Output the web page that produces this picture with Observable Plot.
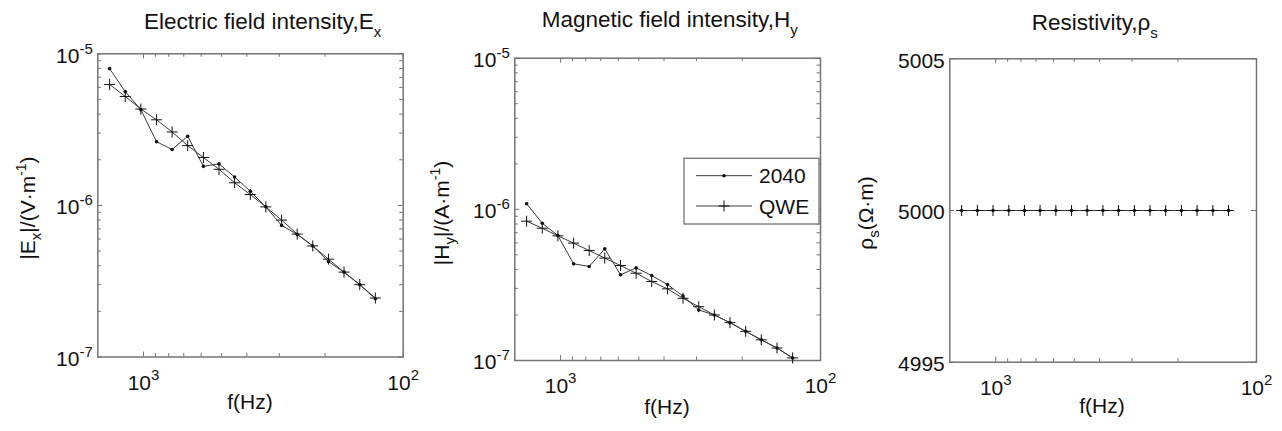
<!DOCTYPE html>
<html><head><meta charset="utf-8">
<script src="https://cdn.jsdelivr.net/npm/d3@7"></script>
<script src="https://cdn.jsdelivr.net/npm/@observablehq/plot@0.6"></script>
<style>
body{margin:0;background:#fff;}
#wrap{position:relative;width:1282px;height:431px;overflow:hidden;background:#fff;font-family:"Liberation Sans",Arial,sans-serif;}
#wrap svg{position:absolute;left:0;top:0;}
</style></head><body><div id="wrap"></div>
<script>
// ---- data ----
const freq = [1351, 1176, 1024, 891, 776, 676, 588, 512, 446, 388, 338, 294, 256, 223, 194, 169, 147, 128];
const ex2040 = [7.98e-6, 5.63e-6, 4.28e-6, 2.63e-6, 2.34e-6, 2.86e-6, 1.81e-6, 1.88e-6, 1.54e-6, 1.24e-6, 9.78e-7, 7.38e-7, 6.44e-7, 5.40e-7, 4.26e-7, 3.63e-7, 3.00e-7, 2.42e-7];
const exQWE = [6.28e-6, 5.23e-6, 4.32e-6, 3.67e-6, 3.05e-6, 2.48e-6, 2.07e-6, 1.73e-6, 1.41e-6, 1.18e-6, 9.78e-7, 8.00e-7, 6.47e-7, 5.40e-7, 4.42e-7, 3.63e-7, 3.00e-7, 2.45e-7];
const hy2040 = [1.09e-6, 8.09e-7, 6.71e-7, 4.36e-7, 4.19e-7, 5.48e-7, 3.69e-7, 4.10e-7, 3.65e-7, 3.18e-7, 2.67e-7, 2.16e-7, 2.00e-7, 1.78e-7, 1.56e-7, 1.37e-7, 1.21e-7, 1.04e-7];
const hyQWE = [8.35e-7, 7.50e-7, 6.68e-7, 5.98e-7, 5.34e-7, 4.76e-7, 4.25e-7, 3.78e-7, 3.33e-7, 2.98e-7, 2.58e-7, 2.27e-7, 2.00e-7, 1.78e-7, 1.56e-7, 1.37e-7, 1.21e-7, 1.04e-7];
const rho2040 = [5000, 5000, 5000, 5000, 5000, 5000, 5000, 5000, 5000, 5000, 5000, 5000, 5000, 5000, 5000, 5000, 5000, 5000];
const rhoQWE = [5000, 5000, 5000, 5000, 5000, 5000, 5000, 5000, 5000, 5000, 5000, 5000, 5000, 5000, 5000, 5000, 5000, 5000];
const seriesNames = ["2040", "QWE"];
const xMajor = [1000, 100];
const xMinor = [900, 800, 700, 600, 500, 400, 300, 200];
const yMajorLog = [1e-7, 1e-6, 1e-5];
const yMinorLog = [2e-7, 3e-7, 4e-7, 5e-7, 6e-7, 7e-7, 8e-7, 9e-7, 2e-6, 3e-6, 4e-6, 5e-6, 6e-6, 7e-6, 8e-6, 9e-6];
const yMajorRho = [4995, 5000, 5005];

// ---- style ----
const W = 1282, H = 431;
const FONT = "Liberation Sans, Arial, sans-serif";
const frameC = "#747474", lineC = "#3a3a3a", markC = "#111";
const plusSym = {draw(ctx){ const a = 5.5; ctx.moveTo(-a,0); ctx.lineTo(a,0); ctx.moveTo(0,-a); ctx.lineTo(0,a); }};
const ns = "http://www.w3.org/2000/svg";
const wrap = document.getElementById("wrap");

function expFmt(d){ return "10^" + Math.round(Math.log10(d)); }

function panel(o){
  const h = o.B - o.T, w = o.R - o.L;
  const t2040 = freq.map((f,i)=>({f, v:o.s2040[i]}));
  const tQWE = freq.map((f,i)=>({f, v:o.sQWE[i]}));
  const tk = (len) => ({stroke: frameC, strokeWidth: 1});
  const marks = [
    Plot.tickX(xMajor, {x: d=>d, insetTop: h-5, stroke: frameC}),
    Plot.tickX(xMajor, {x: d=>d, insetBottom: h-5, stroke: frameC}),
    Plot.tickX(xMinor, {x: d=>d, insetTop: h-3.5, stroke: frameC}),
    Plot.tickX(xMinor, {x: d=>d, insetBottom: h-3.5, stroke: frameC}),
    Plot.tickY(o.yMajor, {y: d=>d, insetRight: w-5, stroke: frameC}),
    Plot.tickY(o.yMajor, {y: d=>d, insetLeft: w-5, stroke: frameC}),
  ];
  if (o.yMinor) marks.push(
    Plot.tickY(o.yMinor, {y: d=>d, insetRight: w-3.5, stroke: frameC}),
    Plot.tickY(o.yMinor, {y: d=>d, insetLeft: w-3.5, stroke: frameC})
  );
  marks.push(
    Plot.frame({stroke: frameC, strokeWidth: 1.5}),
    Plot.axisX({ticks: xMajor, tickSize: 0, tickPadding: 18, tickFormat: expFmt, fontSize: 21, label: null, fill: "#111"}),
    Plot.axisY({ticks: o.yMajor, tickSize: 0, tickPadding: 5, tickFormat: o.yFmt, fontSize: 21, label: null, dy: 2, fill: "#111"}),
    Plot.line(tQWE, {x: "f", y: "v", stroke: lineC, strokeWidth: 1}),
    Plot.line(t2040, {x: "f", y: "v", stroke: lineC, strokeWidth: 1}),
    Plot.dot(tQWE, {x: "f", y: "v", symbol: plusSym, r: 4, fill: "none", stroke: markC, strokeWidth: 1}),
    Plot.dot(t2040, {x: "f", y: "v", r: 1.8, fill: markC, stroke: "none"})
  );
  const svg = Plot.plot({
    width: W, height: H,
    marginLeft: o.L, marginRight: W - o.R, marginTop: o.T, marginBottom: H - o.B,
    x: {type: "log", domain: [1500, 100]},
    y: {type: o.yType, domain: o.yDomain},
    style: {fontFamily: FONT, fontSize: "21px", background: "transparent", overflow: "visible", color: "#111"},
    marks
  });
  // superscript exponents in tick labels
  svg.querySelectorAll('g[aria-label="x-axis tick label"] text, g[aria-label="y-axis tick label"] text').forEach(t => {
    const m = t.textContent.match(/^10\^(.+)$/);
    if (!m) return;
    const isX = t.closest('g[aria-label="x-axis tick label"]') != null;
    t.textContent = "";
    const a = document.createElementNS(ns, "tspan"); a.textContent = "10"; t.appendChild(a);
    const b = document.createElementNS(ns, "tspan");
    b.setAttribute("dy", isX ? "-10" : "-9");
    b.setAttribute("font-size", "15");
    b.textContent = m[1]; t.appendChild(b);
  });
  wrap.appendChild(svg);
}

panel({L: 97.3, R: 402.7, T: 53.3, B: 356.5, yType: "log", yDomain: [1e-7, 1e-5], yMajor: yMajorLog, yMinor: yMinorLog, yFmt: expFmt, s2040: ex2040, sQWE: exQWE});
panel({L: 514.3, R: 820, T: 57.7, B: 360, yType: "log", yDomain: [1e-7, 1e-5], yMajor: yMajorLog, yMinor: yMinorLog, yFmt: expFmt, s2040: hy2040, sQWE: hyQWE});
panel({L: 949.3, R: 1256, T: 58.3, B: 361.7, yType: "linear", yDomain: [4995, 5005], yMajor: yMajorRho, yMinor: null, yFmt: d => String(d), s2040: rho2040, sQWE: rhoQWE});

// ---- overlay text: titles, axis labels, legend ----
const ov = d3.select(wrap).append("svg").attr("width", W).attr("height", H)
  .style("font-family", FONT).style("overflow", "visible");

function rich(sel, x, y, parts, opt = {}){
  const t = sel.append("text").attr("x", x).attr("y", y)
    .attr("font-size", opt.size || 21).attr("fill", "#111")
    .attr("text-anchor", opt.anchor || "start");
  if (opt.rotate) t.attr("transform", `rotate(-90 ${x} ${y})`);
  let shift = 0;
  parts.forEach(p => {
    const ts = t.append("tspan").text(p.t);
    let target = 0, fs = null;
    if (p.sub) { target = opt.subDy || 7; fs = opt.subSize || 15; }
    if (p.sup) { target = opt.supDy || -9; fs = opt.supSize || 14; }
    if (target - shift !== 0) ts.attr("dy", target - shift);
    shift = target;
    if (fs) ts.attr("font-size", fs);
  });
  return t;
}

// titles
rich(ov, 144, 29.3, [{t:"Electric field intensity,E"}, {t:"x", sub:true}], {size: 22.5, subDy: 8, subSize: 15});
rich(ov, 541.7, 27.3, [{t:"Magnetic field intensity,H"}, {t:"y", sub:true}], {size: 22.5, subDy: 8, subSize: 15});
rich(ov, 1031.7, 30, [{t:"Resistivity,\u03c1"}, {t:"s", sub:true}], {size: 22.5, subDy: 8, subSize: 15});

// x labels
rich(ov, 250, 409, [{t:"f(Hz)"}], {anchor: "middle"});
rich(ov, 667, 414, [{t:"f(Hz)"}], {anchor: "middle"});
rich(ov, 1102, 413, [{t:"f(Hz)"}], {anchor: "middle"});

// y labels (rotated)
rich(ov, 35, 208, [{t:"|E"}, {t:"x", sub:true}, {t:"|/(V\u00b7m"}, {t:"-1", sup:true}, {t:")"}], {anchor: "middle", rotate: true, subDy: 6, supDy: -9});
rich(ov, 449, 213, [{t:"|H"}, {t:"y", sub:true}, {t:"|/(A\u00b7m"}, {t:"-1", sup:true}, {t:")"}], {anchor: "middle", rotate: true, subDy: 6, supDy: -9});
rich(ov, 873, 213, [{t:"\u03c1"}, {t:"s", sub:true}, {t:"(\u03a9\u00b7m)"}], {anchor: "middle", rotate: true, subDy: 6});

// legend
const lg = ov.append("g");
lg.append("rect").attr("x", 684).attr("y", 158.3).attr("width", 135).attr("height", 65.7)
  .attr("fill", "#fff").attr("stroke", frameC).attr("stroke-width", 1.3);
const ly = [175.7, 206];
seriesNames.forEach((name, i) => {
  lg.append("line").attr("x1", 696).attr("x2", 752).attr("y1", ly[i]).attr("y2", ly[i]).attr("stroke", lineC).attr("stroke-width", 1);
  if (i === 0) lg.append("circle").attr("cx", 724).attr("cy", ly[i]).attr("r", 1.8).attr("fill", markC);
  else lg.append("path").attr("d", `M718.5,${ly[i]}H729.5M724,${ly[i]-5.5}V${ly[i]+5.5}`).attr("stroke", markC).attr("fill", "none");
  lg.append("text").attr("x", 759).attr("y", ly[i]).attr("dy", "0.36em").attr("font-size", 21).attr("fill", "#111").text(name);
});
</script></body></html>
